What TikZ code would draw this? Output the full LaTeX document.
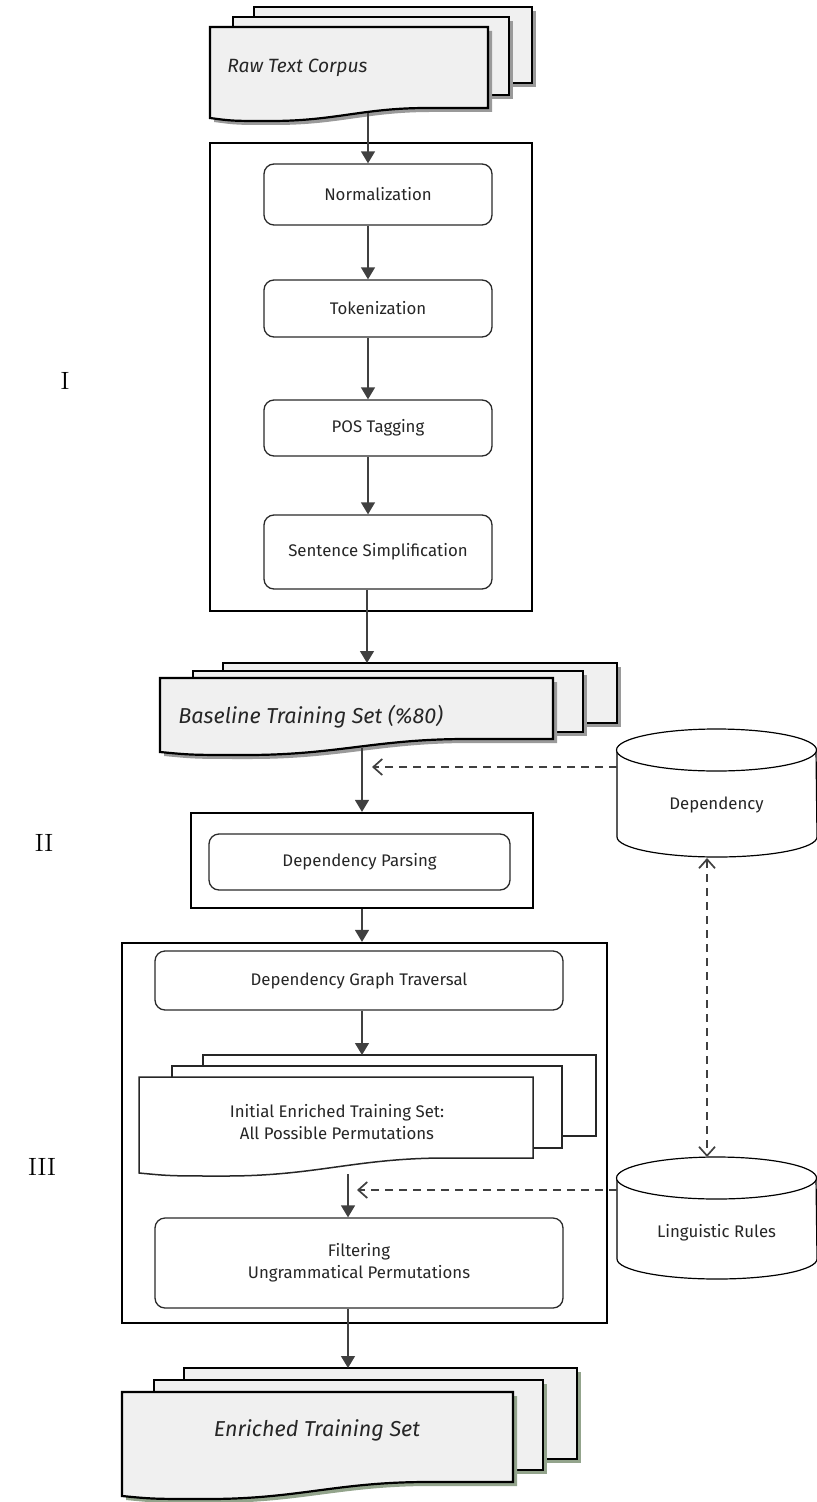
\documentclass[tikz,border=0pt]{standalone}
\usepackage{fontspec}
\setsansfont{Fira Sans}
\usetikzlibrary{arrows.meta,calc}
\definecolor{docfill}{HTML}{F0F0F0}
\definecolor{shgray}{HTML}{9A9A9A}
\definecolor{shgreen}{HTML}{93A48C}
\definecolor{arrgray}{HTML}{404040}
\definecolor{boxline}{HTML}{2A2A2A}
% wave document: x1,y1,x2,yright,yleft,options
\newcommand\wdoc[6]{%
 \path[#6] (#1,#2) -- (#3,#2) -- (#3,#4) -- ({#1+0.78*(#3-#1)},#4)
  .. controls ({#1+0.55*(#3-#1)},#4) and ({#1+0.45*(#3-#1)},{#5+3}) .. ({#1+0.22*(#3-#1)},{#5+3})
  .. controls ({#1+0.08*(#3-#1)},{#5+3}) .. (#1,#5) -- cycle;}
\newcommand\rdoc[5]{\path[#5] (#1,#2) rectangle (#3,#4);}
\tikzset{
 procbox/.style={draw=boxline,line width=0.65pt,rounded corners=5pt,align=center,inner sep=0pt,
   font=\sffamily\fontsize{8.4}{10.8}\selectfont,text=black!85},
 outerbox/.style={draw=black,line width=1.25pt,inner sep=0pt},
 arr/.style={draw=arrgray,line width=0.7pt,-{Triangle[width=7pt,length=6pt]}},
 darr/.style={draw=arrgray,line width=0.75pt,dash pattern=on 4pt off 3pt,-{Straight Barb[length=4.5pt,width=8pt,line width=0.85pt]}},
 ddarr/.style={draw=arrgray,line width=0.75pt,dash pattern=on 4pt off 3pt,{Straight Barb[length=4.5pt,width=8pt,line width=0.85pt]}-{Straight Barb[length=4.5pt,width=8pt,line width=0.85pt]}},
 docA/.style={fill=docfill,draw=black,line width=1.1pt},
 docB/.style={fill=white,draw=black!85,line width=0.75pt},
 shA/.style={fill=shgray,xshift=2pt,yshift=-2pt},
 shG/.style={fill=shgreen,xshift=2pt,yshift=-2pt},
 doctext/.style={font=\sffamily\itshape\fontsize{9.6}{12}\selectfont,anchor=west,inner sep=0pt,text=black!85},
 bigdoctext/.style={font=\sffamily\itshape\fontsize{10.8}{13}\selectfont,inner sep=0pt,text=black!85},
 dbtext/.style={font=\sffamily\fontsize{8.4}{10.8}\selectfont,text=black!85},
 roman/.style={font=\fontsize{12.5}{14}\selectfont}
}
\begin{document}
\begin{tikzpicture}[x=0.5pt,y=-0.5pt]
\useasboundingbox (0,0) rectangle (817,1502);

% ---------- Raw Text Corpus stack ----------
\rdoc{254}{7}{532}{83}{shA}
\rdoc{254}{7}{532}{83}{docA}
\rdoc{233}{17}{509}{95}{shA}
\rdoc{233}{17}{509}{95}{docA}
\wdoc{210}{27}{488}{108}{118}{shA}
\wdoc{210}{27}{488}{108}{118}{docA}
\node[doctext] (raw) at (227,68) {Raw Text Corpus};
\coordinate (rawb) at (368,113);

% ---------- Stage I ----------
\node[outerbox,minimum width=161pt,minimum height=234pt] (boxI) at (371,377) {};
\node[procbox,minimum width=114pt,minimum height=30.5pt] (norm) at (378,194.5) {Normalization};
\node[procbox,minimum width=114pt,minimum height=28.5pt] (tok) at (378,308.5) {Tokenization};
\node[procbox,minimum width=114pt,minimum height=28pt] (pos) at (378,428) {POS Tagging};
\node[procbox,minimum width=114pt,minimum height=37pt] (sent) at (378,552) {Sentence Simplification};
\coordinate (cI) at (368,0);

% ---------- Baseline stack ----------
\rdoc{223}{663}{617}{723}{shA}
\rdoc{223}{663}{617}{723}{docA}
\rdoc{193}{671}{583}{732}{shA}
\rdoc{193}{671}{583}{732}{docA}
\wdoc{160}{678}{553}{739}{752}{shA}
\wdoc{160}{678}{553}{739}{752}{docA}
\node[bigdoctext,anchor=west] (base) at (178,717) {Baseline Training Set (\%80)};
\coordinate (basetop) at (367,663);
\coordinate (baseb) at (362,748);

% ---------- Stage II ----------
\node[outerbox,line width=1.1pt,minimum width=171pt,minimum height=47.5pt] (boxII) at (362,860.5) {};
\node[procbox,minimum width=150.5pt,minimum height=28pt] (dp) at (359.5,862) {Dependency Parsing};

% ---------- Stage III ----------
\node[outerbox,line width=1.1pt,minimum width=242.5pt,minimum height=190pt] (boxIII) at (364.5,1133) {};
\node[procbox,minimum width=204pt,minimum height=29.5pt] (dgt) at (359,980.5) {Dependency Graph Traversal};
\rdoc{203}{1055}{596}{1136}{docB}
\rdoc{172}{1066}{562}{1148}{docB}
\wdoc{139}{1077}{533}{1158}{1173}{docB}
\node[dbtext,align=center] (init) at (337,1122) {Initial Enriched Training Set:\\All Possible Permutations};
\coordinate (inittop) at (362,1055);
\coordinate (initb) at (348,1174);
\node[procbox,minimum width=204pt,minimum height=45pt] (filt) at (359,1263) {Filtering\\Ungrammatical Permutations};

% ---------- Enriched stack ----------
\rdoc{184}{1368}{577}{1459}{shG}
\rdoc{184}{1368}{577}{1459}{docA}
\rdoc{154}{1380}{543}{1470}{shG}
\rdoc{154}{1380}{543}{1470}{docA}
\wdoc{122}{1392}{513}{1482}{1496}{shG}
\wdoc{122}{1392}{513}{1482}{1496}{docA}
\node[bigdoctext] (enr) at (317,1430) {Enriched Training Set};
\coordinate (enrtop) at (348,1368);

% ---------- Databases ----------
\path[fill=white,draw=black,line width=0.6pt] (617,750) -- (617,837) arc[start angle=180,end angle=360,x radius=50pt,y radius=10pt] -- (816,750);
\draw[fill=white,line width=0.6pt] (716.5,750) ellipse[x radius=50pt,y radius=10.5pt];
\node[dbtext] (depdb) at (716.5,805) {Dependency};
\coordinate (depL) at (617,767);
\coordinate (depB) at (707,858);

\path[fill=white,draw=black,line width=0.6pt] (617,1178) -- (617,1259) arc[start angle=180,end angle=360,x radius=50pt,y radius=10pt] -- (816,1178);
\draw[fill=white,line width=0.6pt] (716.5,1178) ellipse[x radius=50pt,y radius=10.5pt];
\node[dbtext] (lingdb) at (716.5,1233) {Linguistic Rules};
\coordinate (lingL) at (617,1190);
\coordinate (lingT) at (707,1157);

% ---------- Roman numerals ----------
\node[roman] (rI) at (65,381) {I};
\node[roman] (rII) at (44,843) {II};
\node[roman] (rIII) at (42,1167) {III};

% ---------- Connectors ----------
\draw[arr] (rawb) -- (rawb |- norm.north);
\draw[arr] (norm.south -| cI) -- (tok.north -| cI);
\draw[arr] (tok.south -| cI) -- (pos.north -| cI);
\draw[arr] (pos.south -| cI) -- (sent.north -| cI);
\draw[arr] (sent.south -| basetop) -- (basetop);
\draw[arr] (baseb) -- (baseb |- boxII.north);
\draw[arr] (boxII.south -| baseb) -- (boxIII.north -| baseb);
\draw[arr] (dgt.south -| inittop) -- (inittop);
\draw[arr] (initb) -- (initb |- filt.north);
\draw[arr] (filt.south -| enrtop) -- (enrtop);
\draw[darr] (depL) -- ($(baseb |- depL)+(10,0)$);
\draw[darr] (lingL) -- ($(initb |- lingL)+(9,0)$);
\draw[ddarr] (depB) -- (lingT);
\end{tikzpicture}
\end{document}
